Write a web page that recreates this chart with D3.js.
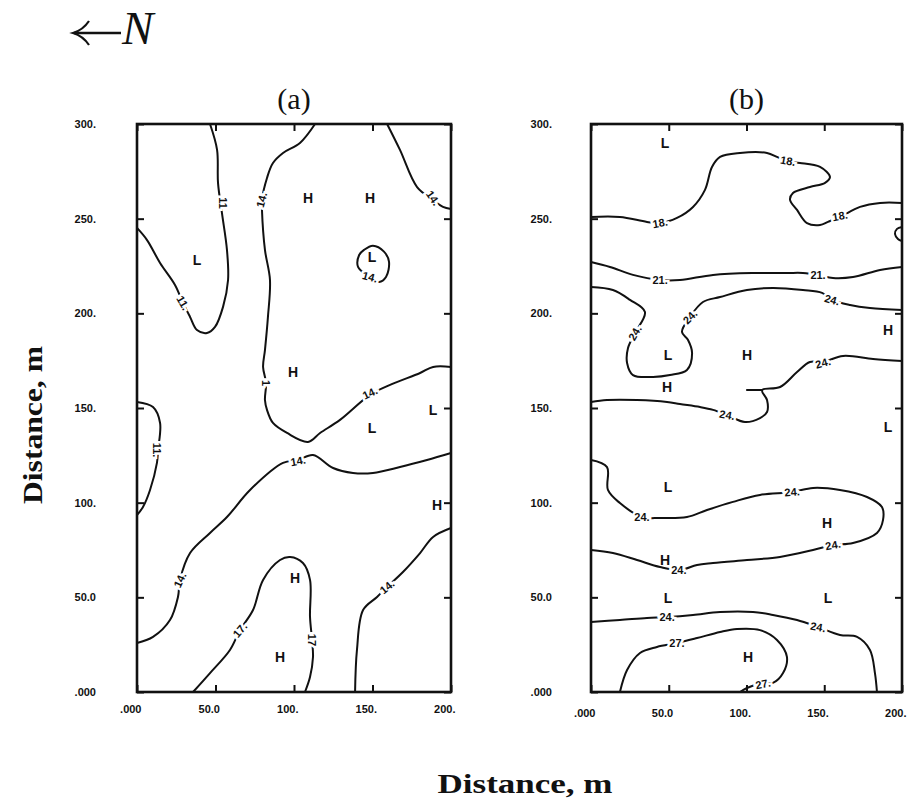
<!DOCTYPE html>
<html><head><meta charset="utf-8">
<script src="https://cdn.jsdelivr.net/npm/d3@7"></script>
<style>
  body { margin: 0; background: #fff; }
  svg { display: block; }
</style>
</head><body>
<svg id="chart" width="910" height="805"></svg>
<script>
// ---- axis ticks (metres) ----
const xTicks = [0, 50, 100, 150, 200];
const xTickLabels = [".000", "50.0", "100.", "150.", "200."];
const yTicks = [0, 50, 100, 150, 200, 250, 300];
const yTickLabels = [".000", "50.0", "100.", "150.", "200.", "250.", "300."];

// ---- panel (a): contour lines, [x, y] in metres ----
const a11Upper = [[46.5,300],[51.0,286.3],[51.6,268.9],[54.1,253.0],[57.3,233.5],[58.0,217.6],[54.8,203.4],[49.7,192.8],[44.6,189.6],[38.2,191.2],[33.8,198.1],[29.3,205.5],[24.2,215.0],[14.7,226.6],[6.4,238.7],[0,245.1]];
const a14Central = [[113.4,300],[103.8,290.0],[93.0,284.7],[86.6,279.4],[82.8,271.5],[79.6,259.9],[79.6,254.6],[81.5,233.5],[84.7,217.6],[83.4,198.1],[81.5,180.6],[80.3,171.7],[82.2,163.2],[81.5,154.2],[82.8,149.0],[86.6,142.1],[95.6,136.8],[108.9,132.1],[116.6,136.8],[129.3,143.7],[148.4,156.9],[161.2,162.2],[180.3,168.5],[188.6,171.7],[200,171.7]];
const a14NorthEast = [[159.3,300],[167.5,286.3],[178.4,266.7],[188.6,259.9],[194.9,256.2],[200,255.1]];
const a14Loop = [[150.3,235.7],[157.3,232.6],[160.5,227.3],[158.6,219.2],[154.2,216.6],[147.2,219.7],[140.8,224.5],[141.5,230.8],[144.6,233.5]];
const a11Lower = [[0,153.2],[10.2,150.5],[14.7,142.1],[13.4,127.8],[12.7,121.0],[8.3,106.7],[3.8,97.7],[0,93.5]];
const a14Diagonal = [[0,25.9],[10.2,29.1],[21.0,38.0],[26.1,50.2],[27.4,59.2],[33.8,73.4],[46.5,84.0],[57.3,92.4],[72.0,106.7],[93.0,121.0],[102.6,122.5],[112.1,125.2],[124.9,118.3],[137.6,115.7],[150.3,115.7],[167.5,118.8],[184.7,122.5],[200,126.2]];
const a17Tongue = [[35.7,0],[46.5,10.0],[59.2,22.2],[65.6,32.7],[73.9,43.3],[80.3,59.2],[91.1,69.7],[97.5,71.3],[105.7,68.1],[110.2,59.2],[110.2,39.6],[111.5,27.5],[112.1,18.5],[110.2,7.9],[107.0,0]];
const a14SouthEast = [[138.9,0],[140.1,22.2],[144.0,43.3],[152.9,50.2],[159.3,55.5],[169.4,63.4],[180.3,73.4],[188.6,81.9],[200,86.6]];

// contour value labels: [text, x, y, angle]
const aValueLabels = [
  ["11", 54.8, 258.3, 90], ["14.", 79.4, 259.9, -75], ["11.", 29.3, 205.5, 60],
  ["14.", 188.6, 260.9, 55], ["14.", 148.4, 219.2, 15], ["1", 82.2, 163.2, 90],
  ["14.", 148.4, 157.9, -25], ["11.", 12.9, 127.8, 90], ["14.", 102.6, 122.0, -10],
  ["14.", 27.4, 59.2, -65], ["17.", 65.6, 32.7, -50], ["17", 111.5, 27.5, 90],
  ["14.", 159.3, 55.5, -40]
];
// highs and lows: [letter, x, y]
const aExtrema = [
  ["H",108.9,260.9],["H",148.4,260.9],["L",38.2,228.2],["L",149.7,229.8],
  ["H",99.4,169.0],["L",149.7,139.4],["L",188.6,149.0],["H",191.1,98.8],
  ["H",100.6,60.2],["H",91.1,18.5]
];

// ---- panel (b): contour lines ----
const b18North = [[0,250.9],[18.6,250.9],[36.0,248.3],[44.4,247.7],[55.3,250.4],[65.6,256.2],[73.3,265.2],[77.8,277.3],[83.0,282.6],[95.8,284.7],[113.2,284.7],[119.6,282.6],[126.7,280.0],[134.4,279.4],[147.3,277.3],[153.7,272.0],[150.5,268.9],[140.8,266.7],[129.9,263.6],[128.0,259.9],[132.5,254.6],[138.9,247.7],[147.3,246.7],[152.4,248.3],[160.1,250.9],[173.0,256.2],[185.9,258.3],[200,258.3]];
const b18Edge = [[200,245.6],[196.8,244.6],[195.5,241.9],[197.4,239.3],[200,238.2]];
const b21 = [[0,227.1],[12.2,224.5],[27.0,220.3],[44.4,217.6],[57.2,217.6],[78.5,220.3],[104.2,221.3],[126.0,221.3],[136.3,221.3],[146.0,220.3],[155.6,218.7],[168.5,219.2],[185.9,222.9],[200,224.5]];
const b24Upper = [[0,213.9],[14.1,212.3],[25.1,207.1],[34.7,200.7],[28.3,189.6],[23.8,181.7],[23.2,173.8],[27.0,167.4],[39.9,166.4],[50.8,167.4],[61.7,170.1],[65.0,179.1],[62.4,185.9],[58.5,190.2],[63.7,198.1],[72.0,206.0],[83.0,208.6],[100.3,212.3],[117.0,213.4],[136.3,212.3],[148.6,210.8],[155.0,207.1],[166.6,204.4],[179.4,202.8],[200,201.8]];
const b24Middle = [[200,174.8],[181.4,175.9],[162.1,177.5],[149.2,174.3],[140.8,174.3],[132.5,169.0],[121.6,161.1],[110.0,159.5],[113.2,154.2],[113.2,147.9],[108.7,144.7],[99.0,142.6],[87.5,146.3],[78.5,149.0],[70.1,150.5],[57.2,152.1],[48.9,153.2],[29.6,154.2],[10.3,154.2],[0,153.2]];
const b24Stub = [[100.3,159.5],[110.0,159.5]];
const b24Loop = [[0,122.5],[10.3,118.8],[10.9,106.7],[18.6,99.8],[32.8,92.4],[44.4,91.9],[61.7,92.4],[74.6,96.1],[91.3,100.4],[108.7,104.1],[129.3,105.6],[142.8,107.8],[160.1,106.7],[177.5,103.0],[187.1,97.7],[187.8,90.9],[183.9,84.0],[168.5,78.7],[155.6,77.6],[142.8,75.0],[121.5,71.3],[100.3,69.7],[78.5,68.1],[68.2,67.1],[57.2,64.4],[44.4,66.0],[29.6,69.7],[14.1,73.4],[0,75.0]];
const b24Lower = [[0,37.0],[18.6,38.0],[36.0,39.1],[48.9,39.6],[65.6,40.7],[83.0,42.3],[104.2,42.3],[117.0,40.7],[132.5,38.0],[146.0,34.3],[160.1,30.1],[171.1,29.1],[179.4,22.2],[182.6,10.0],[183.9,0]];
const b27 = [[18.6,0],[23.2,11.6],[31.5,20.6],[42.4,23.8],[55.3,25.9],[68.2,28.5],[83.0,31.7],[93.9,33.3],[108.7,32.7],[119.6,27.5],[126.0,18.5],[123.5,10.0],[117.0,4.8],[110.6,4.8],[100.3,2.1],[95.8,0]];

const bValueLabels = [
  ["18.", 44.4, 247.7, -10], ["18.", 126.7, 280.5, 10], ["18.", 160.1, 251.4, -10],
  ["21.", 44.4, 217.6, 0], ["21.", 146.0, 220.3, 0],
  ["24.", 28.3, 189.6, -60], ["24.", 63.7, 198.1, -45], ["24.", 155.0, 207.1, 15],
  ["24.", 149.2, 173.8, -15], ["24.", 87.5, 146.3, 10],
  ["24.", 32.8, 92.4, 0], ["24.", 129.3, 105.6, -5], ["24.", 155.6, 77.6, -10], ["24.", 56.5, 64.4, 0],
  ["24.", 48.9, 39.6, 0], ["24.", 146.0, 34.3, 10],
  ["27.", 55.3, 25.9, 0], ["27.", 110.6, 4.2, -10]
];
const bExtrema = [
  ["L",47.6,290.0],["L",49.5,178.0],["H",100.3,178.0],["H",191.0,191.2],
  ["H",48.9,161.1],["L",191.0,140.0],["L",49.5,108.3],["H",151.8,89.3],
  ["H",47.6,69.7],["L",49.5,49.7],["L",152.4,49.7],["H",101.0,18.5]
];

const panels = [
  { title: "(a)", left: 137, right: 451, top: 124, bottom: 692, labelRight: 96, xLabelBase: 713,
    lines: [a11Upper, a14Central, a14NorthEast, a11Lower, a14Diagonal, a17Tongue, a14SouthEast],
    loops: [a14Loop], values: aValueLabels, extrema: aExtrema },
  { title: "(b)", left: 591, right: 902, top: 124, bottom: 692, labelRight: 552, xLabelBase: 717,
    lines: [b18North, b18Edge, b21, b24Upper, b24Middle, b24Stub, b24Loop, b24Lower, b27],
    loops: [], values: bValueLabels, extrema: bExtrema }
];

const svg = d3.select("#chart");
svg.append("rect").attr("width", 910).attr("height", 805).attr("fill", "#fff");

const tickFont = "'Liberation Sans', Arial, sans-serif";
const serif = "'Liberation Serif', 'Times New Roman', serif";

panels.forEach(p => {
  const x = d3.scaleLinear().domain([0, 200]).range([p.left, p.right]);
  const y = d3.scaleLinear().domain([0, 300]).range([p.bottom, p.top]);
  const g = svg.append("g");

  // contour lines
  const line = d3.line().x(d => x(d[0])).y(d => y(d[1])).curve(d3.curveCatmullRom.alpha(0.5));
  const loop = d3.line().x(d => x(d[0])).y(d => y(d[1])).curve(d3.curveCatmullRomClosed.alpha(0.5));
  const cg = g.append("g").attr("fill", "none").attr("stroke", "#111").attr("stroke-width", 2)
    .attr("stroke-linejoin", "round").attr("stroke-linecap", "round");
  p.lines.forEach(c => cg.append("path").attr("d", line(c)));
  p.loops.forEach(c => cg.append("path").attr("d", loop(c)));

  // contour value labels, knocked out of the lines
  g.append("g").selectAll("text").data(p.values).join("text")
    .attr("transform", d => `translate(${x(d[1])},${y(d[2])}) rotate(${d[3]})`)
    .attr("text-anchor", "middle").attr("dy", "0.35em")
    .attr("font-family", tickFont).attr("font-weight", "bold").attr("font-size", 11)
    .attr("fill", "#111").attr("stroke", "#fff").attr("stroke-width", 5)
    .attr("paint-order", "stroke")
    .text(d => d[0]);

  // highs and lows
  g.append("g").selectAll("text").data(p.extrema).join("text")
    .attr("x", d => x(d[1])).attr("y", d => y(d[2]))
    .attr("text-anchor", "middle").attr("dy", "0.36em")
    .attr("font-family", tickFont).attr("font-weight", "bold").attr("font-size", 14)
    .attr("fill", "#111")
    .text(d => d[0]);

  // axes: inward ticks on all four sides, labels on left and bottom
  const ax = sel => { sel.select(".domain").remove(); sel.selectAll("line").attr("stroke", "#111").attr("stroke-width", 2); };

  const left = g.append("g").attr("transform", `translate(${p.left},0)`)
    .call(d3.axisLeft(y).tickValues(yTicks).tickFormat((d, i) => yTickLabels[i])
      .tickSize(-7).tickPadding(p.left - p.labelRight)).call(ax);
  left.selectAll("text").attr("font-family", tickFont).attr("font-weight", "bold")
    .attr("font-size", 11).attr("fill", "#111");

  const bottom = g.append("g").attr("transform", `translate(0,${p.bottom})`)
    .call(d3.axisBottom(x).tickValues(xTicks).tickFormat((d, i) => xTickLabels[i])
      .tickSize(-7).tickPadding(p.xLabelBase - p.bottom - 8)).call(ax);
  bottom.selectAll("text").attr("text-anchor", "end").attr("dx", 4)
    .attr("font-family", tickFont).attr("font-weight", "bold")
    .attr("font-size", 11).attr("fill", "#111");

  g.append("g").attr("transform", `translate(${p.right},0)`)
    .call(d3.axisRight(y).tickValues(yTicks).tickFormat("").tickSize(-7)).call(ax);
  g.append("g").attr("transform", `translate(0,${p.top})`)
    .call(d3.axisTop(x).tickValues(xTicks).tickFormat("").tickSize(-7)).call(ax);

  // frame
  g.append("rect").attr("x", p.left).attr("y", p.top)
    .attr("width", p.right - p.left).attr("height", p.bottom - p.top)
    .attr("fill", "none").attr("stroke", "#111").attr("stroke-width", 2.6);

  // panel title
  svg.append("text").attr("x", (p.left + p.right) / 2).attr("y", 109)
    .attr("text-anchor", "middle").attr("font-family", serif)
    .attr("font-size", 30).attr("fill", "#111").text(p.title);
});

// north arrow
svg.append("path").attr("d", "M121,33 L74,33").attr("stroke", "#111").attr("stroke-width", 2.4).attr("fill", "none");
svg.append("path").attr("d", "M89,21 Q83,30 73,33 Q83,36 89,45").attr("stroke", "#111").attr("stroke-width", 2.2).attr("fill", "none");
svg.append("text").attr("x", 122).attr("y", 44)
  .attr("font-family", serif).attr("font-style", "italic")
  .attr("font-size", 47).attr("fill", "#111").text("N");

// axis titles
svg.append("text").attr("x", 525).attr("y", 793).attr("text-anchor", "middle")
  .attr("font-family", serif).attr("font-weight", "bold")
  .attr("font-size", 28).attr("fill", "#111")
  .attr("textLength", 175).attr("lengthAdjust", "spacingAndGlyphs")
  .text("Distance, m");
svg.append("text").attr("transform", "translate(42,425) rotate(-90)").attr("text-anchor", "middle")
  .attr("font-family", serif).attr("font-weight", "bold")
  .attr("font-size", 27).attr("fill", "#111")
  .attr("textLength", 158).attr("lengthAdjust", "spacingAndGlyphs")
  .text("Distance, m");
</script>
</body></html>
